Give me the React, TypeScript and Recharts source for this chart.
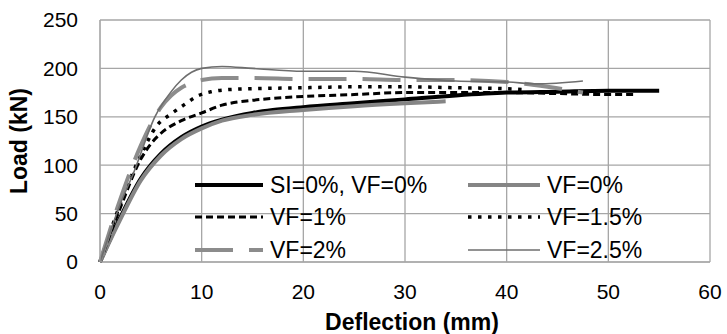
import { CartesianGrid, Line, LineChart, XAxis, YAxis } from "recharts";

// deflection (mm) / load (kN)
const siDefl = [0, 2, 4, 6, 8, 10, 12, 15, 17, 20, 25, 30, 35, 40, 45, 50, 55];
const siLoad = [0, 46, 86, 112, 129, 140, 147, 154, 157, 160, 164, 168, 172, 175, 176, 177, 177];

const vf0Defl = [0, 2, 4, 6, 8, 10, 12, 15, 20, 25, 30, 34];
const vf0Load = [0, 44, 84, 110, 127, 138, 146, 152, 157, 161, 164, 166];

const vf1Defl = [0, 2, 4, 5, 6, 8, 10, 12, 15, 17, 20, 25, 30, 35, 40, 45, 50, 52.5];
const vf1Load = [0, 56, 106, 122, 133, 146, 154, 162, 167, 169, 171, 173, 175, 175, 175, 174, 173, 173];

const vf15Defl = [0, 2, 4, 5.6, 7, 8.5, 9.5, 11, 12.5, 15, 20, 25, 30, 35, 40, 42];
const vf15Load = [0, 60, 110, 141, 153, 164, 171, 176, 178, 179, 180, 181, 181, 180, 179, 178];

const vf2Defl = [0, 2, 4, 6, 7, 8, 9, 10, 12, 15, 20, 25, 30, 35, 40, 44, 47.5];
const vf2Load = [0, 65, 120, 160, 172, 180, 185, 188, 190, 190, 189, 189, 188, 188, 186, 181, 175];

const vf25Defl = [0, 2, 3.3, 5.4, 7, 8, 9, 10, 12, 15, 20, 25, 30, 35, 40, 43, 47.5];
const vf25Load = [0, 60, 92, 150, 176, 188, 196, 200, 202, 200, 197, 197, 191, 187, 186, 184, 187];

const xTicks = [0, 10, 20, 30, 40, 50, 60];
const yTicks = [0, 50, 100, 150, 200, 250];

const zip = (xs: number[], ys: number[]) => xs.map((x, i) => ({ x, y: ys[i] }));

type Series = {
  name: string;
  data: { x: number; y: number }[];
  color: string;
  width: number;
  dash?: string;
};

const series: Series[] = [
  { name: "SI=0%, VF=0%", data: zip(siDefl, siLoad), color: "#000000", width: 4 },
  { name: "VF=0%", data: zip(vf0Defl, vf0Load), color: "#858585", width: 4 },
  { name: "VF=1%", data: zip(vf1Defl, vf1Load), color: "#000000", width: 3, dash: "7 4" },
  { name: "VF=1.5%", data: zip(vf15Defl, vf15Load), color: "#000000", width: 3.5, dash: "3.5 6.5" },
  { name: "VF=2%", data: zip(vf2Defl, vf2Load), color: "#8c8c8c", width: 4, dash: "38 16" },
  { name: "VF=2.5%", data: zip(vf25Defl, vf25Load), color: "#6e6e6e", width: 1.6 },
];

const font = "'Liberation Sans', Arial, sans-serif";
const gridColor = "#a6a6a6";

function ChartLegend() {
  const rows = [185, 217, 250];
  return (
    <>
      {series.map((s, i) => {
        const col = i % 2;
        const row = Math.floor(i / 2);
        const w = col === 0 ? 68 : 72;
        return (
          <div
            key={s.name}
            style={{
              position: "absolute",
              left: col === 0 ? 195 : 468,
              top: rows[row] - 16,
              height: 32,
              display: "flex",
              alignItems: "center",
              fontFamily: font,
              fontSize: 23,
              color: "#000",
              whiteSpace: "nowrap",
            }}
          >
            <svg width={w} height={10}>
              <line
                x1={0}
                y1={5}
                x2={w}
                y2={5}
                stroke={s.color}
                strokeWidth={s.width}
                strokeDasharray={s.dash}
              />
            </svg>
            <span style={{ marginLeft: 7 }}>{s.name}</span>
          </div>
        );
      })}
    </>
  );
}

export default function App() {
  return (
    <div style={{ position: "absolute", left: 0, top: 0, width: 727, height: 334, background: "#fff" }}>
      <LineChart width={727} height={334} margin={{ top: 20, right: 17, bottom: 0, left: 0 }}>
        <CartesianGrid stroke={gridColor} strokeWidth={1.3} />
        <XAxis
          type="number"
          dataKey="x"
          domain={[0, 60]}
          ticks={xTicks}
          height={72}
          stroke={gridColor}
          tickLine={false}
          tickSize={0}
          tickMargin={22}
          tick={{ fill: "#000", fontSize: 21, fontFamily: font }}
          label={{
            value: "Deflection (mm)",
            position: "insideBottom",
            offset: 4,
            dx: 7,
            style: { fill: "#000", fontSize: 23, fontWeight: "bold", fontFamily: font },
          }}
        />
        <YAxis
          type="number"
          domain={[0, 250]}
          ticks={yTicks}
          width={100}
          stroke={gridColor}
          tickLine={false}
          tickSize={0}
          tickMargin={22}
          tick={{ fill: "#000", fontSize: 21, fontFamily: font }}
          label={{
            value: "Load (kN)",
            angle: -90,
            position: "insideLeft",
            offset: 19,
            style: { fill: "#000", fontSize: 23, fontWeight: "bold", fontFamily: font, textAnchor: "middle" },
          }}
        />
        {series.map((s) => (
          <Line
            key={s.name}
            data={s.data}
            dataKey="y"
            name={s.name}
            type="monotone"
            stroke={s.color}
            strokeWidth={s.width}
            strokeDasharray={s.dash}
            dot={false}
            activeDot={false}
            isAnimationActive={false}
          />
        ))}
      </LineChart>
      <ChartLegend />
    </div>
  );
}
